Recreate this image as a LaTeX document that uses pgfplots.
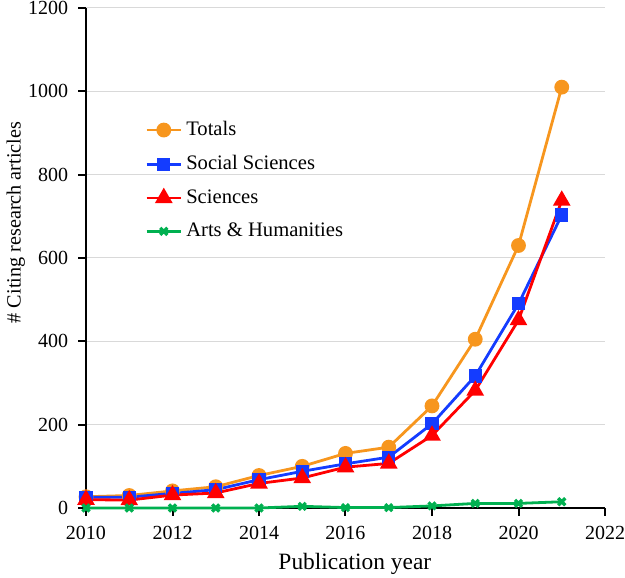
\documentclass[border=0pt]{standalone}
\usepackage{pgfplots}
\pgfplotsset{compat=1.18}
\usepackage{fontspec}
\setmainfont{Liberation Serif}
\newfontfamily\tnr{Liberation Serif}
\definecolor{cOrange}{RGB}{247,150,30}
\definecolor{cBlue}{RGB}{20,60,255}
\definecolor{cRed}{RGB}{255,0,0}
\definecolor{cGreen}{RGB}{0,176,80}
\begin{document}
\tnr\fontsize{10}{12}\selectfont
\begin{tikzpicture}
\begin{axis}[
  name=ax,
  scale only axis,
  width=259.5pt, height=250pt,
  xmin=2010, xmax=2022, ymin=0, ymax=1200,
  xtick={2010,2012,...,2022},
  ytick={0,200,...,1200},
  axis x line*=bottom, axis y line*=left,
  axis line style={line width=1pt, -},
  tick style={black, line width=1pt},
  tick align=outside,
  major tick length=4pt,
  ymajorgrids,
  grid style={gray!30, line width=0.5pt},
  /pgf/number format/assume math mode=true,
  /pgf/number format/1000 sep={},
  tick label style={font=\tnr\fontsize{10}{12}\selectfont, inner sep=0pt},
  yticklabel style={anchor=east, xshift=-4.8pt},
  xticklabel style={anchor=base, yshift=-11.5pt},
  xlabel={Publication year},
  ylabel={\# Citing research articles},
  xlabel style={font=\tnr\fontsize{11.7}{14}\selectfont, inner sep=0pt, at={(axis description cs:0.518,-0.124)}, anchor=base},
  ylabel style={font=\tnr\fontsize{10.1}{12}\selectfont, inner sep=0pt, at={(axis description cs:-0.126,0.571)}, anchor=base},
  legend style={draw=none, fill=none, at={(0.102,0.79)}, anchor=north west,
    font=\tnr\fontsize{10.3}{12}\selectfont, row sep=4.4pt},
  legend cell align=left,
  every axis plot/.append style={line width=1.4pt},
  clip=false,
]
\addplot[color=cOrange, mark=*, mark size=3pt] coordinates {
(2010,27) (2011,30) (2012,41) (2013,51) (2014,78) (2015,100) (2016,131) (2017,146) (2018,245) (2019,405) (2020,630) (2021,1010)};
\addlegendentry{Totals}
\addplot[color=cBlue, mark=square*, mark size=2.6pt] coordinates {
(2010,26) (2011,26) (2012,35) (2013,44) (2014,68) (2015,88) (2016,106) (2017,122) (2018,202) (2019,317) (2020,490) (2021,703)};
\addlegendentry{Social Sciences}
\addplot[color=cRed, mark=triangle*, mark size=3.7pt] coordinates {
(2010,20) (2011,19) (2012,31) (2013,36) (2014,59) (2015,72) (2016,98) (2017,107) (2018,174) (2019,282) (2020,451) (2021,738)};
\addlegendentry{Sciences}
\addplot[color=cGreen, mark=x, mark size=2.5pt, mark options={line width=1.6pt}] coordinates {
(2010,0) (2011,0) (2012,0) (2013,0) (2014,0) (2015,4) (2016,1) (2017,1) (2018,5) (2019,11) (2020,11) (2021,15)};
\addlegendentry{Arts \& Humanities}
\end{axis}
\pgfresetboundingbox
\path[use as bounding box] ([xshift=-43pt,yshift=-34.5pt]ax.south west) rectangle ([xshift=10pt,yshift=4pt]ax.north east);
\end{tikzpicture}
\end{document}
